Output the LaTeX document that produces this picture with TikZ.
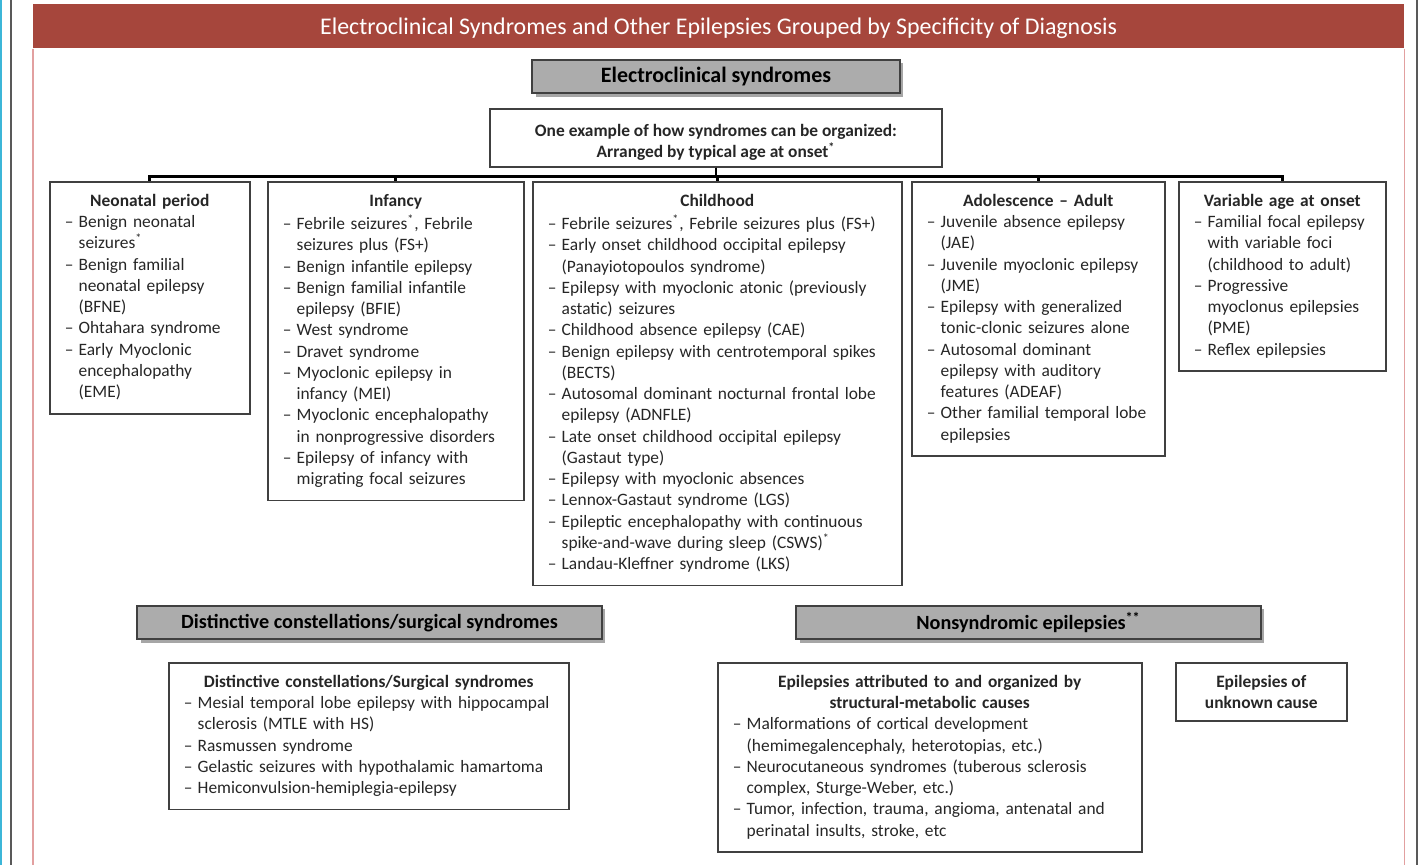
\documentclass[tikz,border=0pt]{standalone}
\usepackage{fontspec}
\setmainfont{Carlito}
\usepackage{xcolor}
\definecolor{titlered}{RGB}{166,70,60}
\definecolor{framepink}{RGB}{226,160,160}
\definecolor{edgecyan}{RGB}{60,182,216}
\definecolor{headgray}{RGB}{172,172,172}
\usepackage{tikz}
\usetikzlibrary{positioning, shadows}

\hyphenpenalty=10000
\exhyphenpenalty=10000
\newcommand{\bodysize}{\fontsize{9.9}{12.1}\selectfont}
\newcommand{\boxhead}[1]{{\centering\bfseries\strut #1\par}}
\newcommand{\itm}{\par\noindent\hangindent=0.8em\hangafter=1\makebox[0.8em][l]{--}}

\begin{document}
\begin{tikzpicture}[
    x=0.02cm, y=-0.02cm,
    font=\bodysize,
    grouphead/.style={draw=black!75, line width=1pt, fill=headgray, anchor=north,
      font=\fontsize{#1}{15}\selectfont\bfseries, minimum height=0.67cm,
      drop shadow={shadow xshift=2pt, shadow yshift=-2pt, fill=black, opacity=0.35}},
    grouphead/.default=12.5,
    listbox/.style={draw=black!75, line width=0.9pt, anchor=north west,
      inner xsep=8.5pt, inner ysep=5.5pt, align=left, text=black!85},
    bus/.style={line width=1.6pt, black}
  ]
  \useasboundingbox (0,0) rectangle (1420,865);

  % Page edges & frame
  \fill[edgecyan] (0,0) rectangle (2.5,865);
  \draw[black!65, line width=0.6pt] (11,0) -- (11,865);
  \draw[black!65, line width=0.6pt] (1417,0) -- (1417,865);
  \node[fill=titlered, anchor=north west, minimum width=27.42cm, minimum height=0.88cm,
    text=white, font=\fontsize{13.6}{16}\selectfont] (title) at (33,4)
    {\raisebox{-4.9pt}[0pt][0pt]{Electroclinical Syndromes and Other Epilepsies Grouped by Specificity of Diagnosis}};
  \draw[framepink, line width=0.8pt] (title.south west) -- ++(0,830);
  \draw[framepink, line width=0.8pt] (title.south east) -- ++(0,830);

  % Electroclinical syndromes
  \node[grouphead, minimum width=7.36cm] (ecs) at (716,59) {Electroclinical syndromes};
  \node[draw=black!75, line width=0.9pt, anchor=north, minimum width=9.04cm, minimum height=1.16cm,
    align=center, text=black!85, font=\bodysize\bfseries] (org) at (716,108)
    {\rule{0pt}{12pt}One example of how syndromes can be organized:\\ Arranged by typical age at onset\textsuperscript{*}};

  \node[listbox, minimum width=4cm, text width=3.4cm] (neo) at (49,181) {\boxhead{Neonatal period}
    \itm Benign neonatal\newline seizures\textsuperscript{*}
    \itm Benign familial\newline neonatal epilepsy\newline (BFNE)
    \itm Ohtahara syndrome
    \itm Early Myoclonic\newline encephalopathy\newline (EME)\strut\par};

  \node[listbox, minimum width=5.12cm, text width=4.52cm] (inf) at (267,181) {\boxhead{Infancy}
    \itm Febrile seizures\textsuperscript{*}, Febrile\newline seizures plus (FS+)
    \itm Benign infantile epilepsy
    \itm Benign familial infantile\newline epilepsy (BFIE)
    \itm West syndrome
    \itm Dravet syndrome
    \itm Myoclonic epilepsy in\newline infancy (MEI)
    \itm Myoclonic encephalopathy\newline in nonprogressive disorders
    \itm Epilepsy of infancy with\newline migrating focal seizures\strut\par};

  \node[listbox, minimum width=7.38cm, text width=6.78cm] (chi) at (532,181) {\boxhead{Childhood}
    \itm Febrile seizures\textsuperscript{*}, Febrile seizures plus (FS+)
    \itm Early onset childhood occipital epilepsy\newline (Panayiotopoulos syndrome)
    \itm Epilepsy with myoclonic atonic (previously\newline astatic) seizures
    \itm Childhood absence epilepsy (CAE)
    \itm Benign epilepsy with centrotemporal spikes\newline (BECTS)
    \itm Autosomal dominant nocturnal frontal lobe\newline epilepsy (ADNFLE)
    \itm Late onset childhood occipital epilepsy\newline (Gastaut type)
    \itm Epilepsy with myoclonic absences
    \itm Lennox-Gastaut syndrome (LGS)
    \itm Epileptic encephalopathy with continuous\newline spike-and-wave during sleep (CSWS)\textsuperscript{*}
    \itm Landau-Kleffner syndrome (LKS)\strut\par};

  \node[listbox, minimum width=5.06cm, text width=4.46cm] (ado) at (911,181) {\boxhead{Adolescence -- Adult}
    \itm Juvenile absence epilepsy\newline (JAE)
    \itm Juvenile myoclonic epilepsy\newline (JME)
    \itm Epilepsy with generalized\newline tonic-clonic seizures alone
    \itm Autosomal dominant\newline epilepsy with auditory\newline features (ADEAF)
    \itm Other familial temporal lobe\newline epilepsies\strut\par};

  \node[listbox, minimum width=4.14cm, text width=3.54cm] (var) at (1178,181) {\boxhead{Variable age at onset}
    \itm Familial focal epilepsy\newline with variable foci\newline (childhood to adult)
    \itm Progressive\newline myoclonus epilepsies\newline (PME)
    \itm Reflex epilepsies\strut\par};

  \foreach \c in {neo,inf,chi,ado,var}
    \draw[bus] (org.south) -- ++(0,9) -| (\c.north);

  % Distinctive constellations
  \node[grouphead=11.5, minimum width=9.3cm] (dcs) at (369.5,605) {Distinctive constellations/surgical syndromes};
  \node[listbox, minimum width=8cm, text width=7.4cm] (dist) at (168,662)
    {\boxhead{Distinctive constellations/Surgical syndromes}
    \itm Mesial temporal lobe epilepsy with hippocampal\newline sclerosis (MTLE with HS)
    \itm Rasmussen syndrome
    \itm Gelastic seizures with hypothalamic hamartoma
    \itm Hemiconvulsion-hemiplegia-epilepsy\strut\par};

  % Nonsyndromic epilepsies
  \node[grouphead=11.5, minimum width=9.3cm] (nse) at (1028.5,605) {Nonsyndromic epilepsies\textsuperscript{**}};
  \node[listbox, minimum width=8.48cm, text width=7.88cm] (attr) at (717,662)
    {{\centering\bfseries\strut Epilepsies attributed to and organized by\\ structural-metabolic causes\par}
    \itm Malformations of cortical development\newline (hemimegalencephaly, heterotopias, etc.)
    \itm Neurocutaneous syndromes (tuberous sclerosis\newline complex, Sturge-Weber, etc.)
    \itm Tumor, infection, trauma, angioma, antenatal and\newline perinatal insults, stroke, etc\strut\par};
  \node[listbox, minimum width=3.42cm, minimum height=1.16cm, align=center,
    font=\bodysize\bfseries] (unk) at (1175,662) {Epilepsies of\\ unknown cause};

\end{tikzpicture}
\end{document}
